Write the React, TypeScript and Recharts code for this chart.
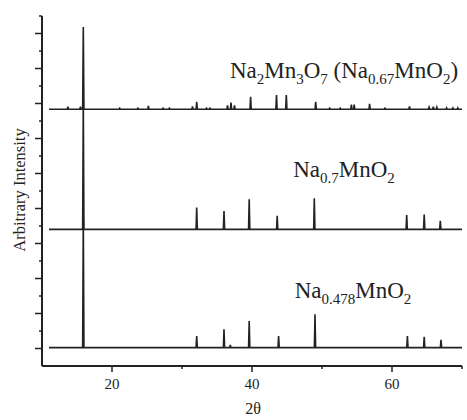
import { LineChart, Line, XAxis, YAxis, Customized } from "recharts";

// 2θ range covered by every pattern
const scanStart = 11;
const scanEnd = 70;

// Na2Mn3O7 (Na0.67MnO2) — top pattern
const topOffset = 14.67;
const topPos = [13.7, 15.5, 15.9, 21.1, 23.7, 25.2, 27.3, 28.2, 31.5, 32.1, 33.5, 34.0, 36.5, 37.0, 37.5, 39.8, 43.5, 44.9, 49.1, 51.1, 52.6, 54.2, 54.6, 56.8, 59.0, 62.5, 65.3, 65.9, 66.4, 67.8, 68.7, 69.4];
const topInt = [0.15, 0.15, 4.7, 0.06, 0.06, 0.19, 0.06, 0.06, 0.17, 0.43, 0.06, 0.06, 0.23, 0.38, 0.23, 0.72, 0.82, 0.82, 0.43, 0.06, 0.06, 0.26, 0.26, 0.31, 0.06, 0.17, 0.12, 0.15, 0.12, 0.08, 0.08, 0.08];

// Na0.7MnO2 — middle pattern
const midOffset = 7.81;
const midPos = [15.9, 32.1, 36.0, 39.6, 43.6, 48.9, 62.1, 64.6, 66.9];
const midInt = [7.4, 1.24, 1.05, 1.72, 0.78, 1.77, 0.82, 0.84, 0.48];

// Na0.478MnO2 — bottom pattern
const lowOffset = 1.05;
const lowPos = [15.9, 32.1, 36.0, 36.9, 39.6, 43.8, 49.0, 62.2, 64.6, 67.0];
const lowInt = [7.4, 0.66, 1.05, 0.15, 1.52, 0.66, 1.9, 0.66, 0.62, 0.44];

const xTicks = [10, 20, 30, 40, 50, 60, 70];
const xTickLabels = [20, 40, 60];
const yTicks = Array.from({ length: 21 }, (_, i) => i);

const ink = "#222";
const serif = "'Liberation Serif', 'DejaVu Serif', serif";

// stick pattern -> polyline points
function buildTrace(pos: number[], int: number[], offset: number) {
  const hw = 0.09;
  const pts = [{ x: scanStart, y: offset }];
  pos.forEach((p, i) => {
    pts.push({ x: p - hw, y: offset });
    pts.push({ x: p, y: offset + int[i] });
    pts.push({ x: p + hw, y: offset });
  });
  pts.push({ x: scanEnd, y: offset });
  return pts;
}

const XTick = (props: any) => {
  const { x, y, payload } = props;
  const v = payload.value;
  if (v === 10) return <g />;
  const major = xTickLabels.includes(v);
  return (
    <g>
      <line x1={x} x2={x} y1={y} y2={y + (major ? 6 : 3)} stroke={ink} strokeWidth={1.5} />
      {major && (
        <text x={x} y={y + 23} textAnchor="middle" fontSize={15} fontFamily={serif} fill={ink}>
          {v}
        </text>
      )}
    </g>
  );
};

const YTick = (props: any) => {
  const { x, y, payload } = props;
  const v = payload.value;
  if (v === 0) return <g />;
  const len = v % 2 === 1 ? 7 : 3;
  return <line x1={x - len} x2={x} y1={y} y2={y} stroke={ink} strokeWidth={1.5} />;
};

function Formula({ cx, y, parts }: { cx: number; y: number; parts: Array<[string, boolean]> }) {
  let sub = false;
  return (
    <text x={cx} y={y} textAnchor="middle" fontSize={23} fontFamily={serif} fill={ink}>
      {parts.map(([t, s], i) => {
        const dy = s && !sub ? 6 : !s && sub ? -6 : 0;
        sub = s;
        return (
          <tspan key={i} dy={dy} fontSize={s ? 15 : 23}>
            {t}
          </tspan>
        );
      })}
    </text>
  );
}

const Labels = () => (
  <g>
    <Formula
      cx={344}
      y={78}
      parts={[["Na", false], ["2", true], ["Mn", false], ["3", true], ["O", false], ["7", true], [" (Na", false], ["0.67", true], ["MnO", false], ["2", true], [")", false]]}
    />
    <Formula cx={344} y={177} parts={[["Na", false], ["0.7", true], ["MnO", false], ["2", true]]} />
    <Formula cx={353} y={298} parts={[["Na", false], ["0.478", true], ["MnO", false], ["2", true]]} />
    <text x={253} y={414} textAnchor="middle" fontSize={16} fontFamily={serif} fill={ink}>
      2θ
    </text>
    <text
      x={19}
      y={190}
      textAnchor="middle"
      dominantBaseline="central"
      transform="rotate(-90, 19, 190)"
      fontSize={16.5}
      fontFamily={serif}
      fill={ink}
    >
      Arbitrary Intensity
    </text>
  </g>
);

export default function App() {
  const series = [
    { key: "top", data: buildTrace(topPos, topInt, topOffset) },
    { key: "mid", data: buildTrace(midPos, midInt, midOffset) },
    { key: "low", data: buildTrace(lowPos, lowInt, lowOffset) },
  ];
  return (
    <div style={{ width: 467, height: 420, background: "#fff" }}>
      <style>{"body{margin:0}"}</style>
      <LineChart width={467} height={420} margin={{ top: 16, right: 5, left: 12, bottom: 24 }}>
        <XAxis
          dataKey="x"
          type="number"
          domain={[10, 70]}
          ticks={xTicks}
          interval={0}
          tick={XTick}
          tickLine={false}
          tickSize={0}
          tickMargin={0}
          height={30}
          axisLine={{ stroke: ink, strokeWidth: 2 }}
          allowDataOverflow
        />
        <YAxis
          type="number"
          domain={[0, 20]}
          ticks={yTicks}
          interval={0}
          tick={YTick}
          tickLine={false}
          tickSize={0}
          tickMargin={0}
          width={30}
          axisLine={{ stroke: ink, strokeWidth: 2 }}
          allowDataOverflow
        />
        {series.map((s) => (
          <Line
            key={s.key}
            data={s.data}
            dataKey="y"
            type="linear"
            stroke={ink}
            strokeWidth={1.6}
            dot={false}
            activeDot={false}
            isAnimationActive={false}
          />
        ))}
        <Customized component={Labels} />
      </LineChart>
    </div>
  );
}
